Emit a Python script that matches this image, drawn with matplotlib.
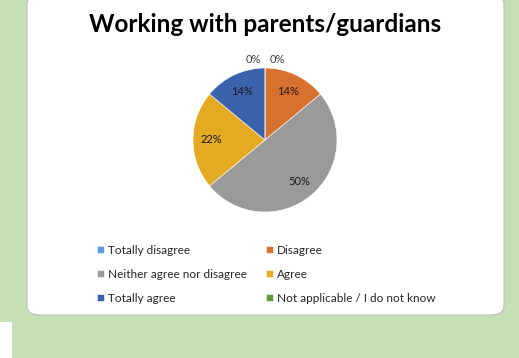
import numpy as np
import matplotlib
matplotlib.use("Agg")
import matplotlib.pyplot as plt
from matplotlib.patches import FancyBboxPatch, Rectangle

# Survey answers, clockwise from 12 o'clock
categories = ["Totally disagree", "Disagree", "Neither agree nor disagree",
              "Agree", "Totally agree", "Not applicable / I do not know"]
shares = [0, 14, 50, 22, 14, 0]
colors = ["#5B9BD5", "#D8702F", "#9A9A9A", "#E3AA22", "#3B63AB", "#5E9C3F"]
title = "Working with parents/guardians"

W, H = 519, 358
fig = plt.figure(figsize=(W / 100, H / 100), dpi=100, facecolor="#C5E0B4")
plt.rcParams["font.family"] = ["Lato", "DejaVu Sans"]

# white rounded card behind everything
card = FancyBboxPatch((27 / W, 1 - 315 / H), 477 / W, 320 / H,
                      boxstyle="round,pad=0,rounding_size=0.025",
                      transform=fig.transFigure, facecolor="white",
                      edgecolor="#BFBFBF", linewidth=0.8, zorder=-2)
fig.patches.append(card)
fig.patches.append(Rectangle((0, 0), 12 / W, 36 / H, transform=fig.transFigure,
                             facecolor="white", edgecolor="none", zorder=-2))

fig.text(265 / W, 1 - 25 / H, title, ha="center", va="center",
         fontsize=17.5, fontweight="bold", color="black")

# pie
cx, cy, r = 265, 140, 72
ax = fig.add_axes([(cx - r) / W, 1 - (cy + r) / H, 2 * r / W, 2 * r / H])
ax.patch.set_visible(False)
wedges, _ = ax.pie(shares, colors=colors, startangle=90, counterclock=False,
                   radius=1, wedgeprops=dict(linewidth=0.4, edgecolor="white"))
ax.set_xlim(-1, 1)
ax.set_ylim(-1, 1)
ax.set_aspect("equal")
ax.axis("off")

zero_side = [0.06, -0.06]
zi = 0
for w, v in zip(wedges, shares):
    mid = np.deg2rad((w.theta1 + w.theta2) / 2)
    if v == 0:
        dx = zero_side[zi]
        zi += 1
        ax.text(dx, 1.12, f"{v}%", ha="left" if dx > 0 else "right",
                va="center", fontsize=8, color="#404040")
    else:
        d = 0.74
        ax.text(d * np.cos(mid), d * np.sin(mid), f"{v}%", ha="center",
                va="center", fontsize=8, color="#1A1A1A")

# legend, row-major order in two columns
order = [0, 2, 4, 1, 3, 5]
fig.legend([wedges[i] for i in order], [categories[i] for i in order],
           ncol=2, loc="upper left", bbox_to_anchor=(86 / W, 1 - 234 / H),
           frameon=False, fontsize=8.5, handlelength=0.65, handleheight=0.65,
           handletextpad=0.3, columnspacing=1.6, labelspacing=1.1,
           labelcolor="#262626")

fig.savefig("out.png", dpi=100, facecolor=fig.get_facecolor())
